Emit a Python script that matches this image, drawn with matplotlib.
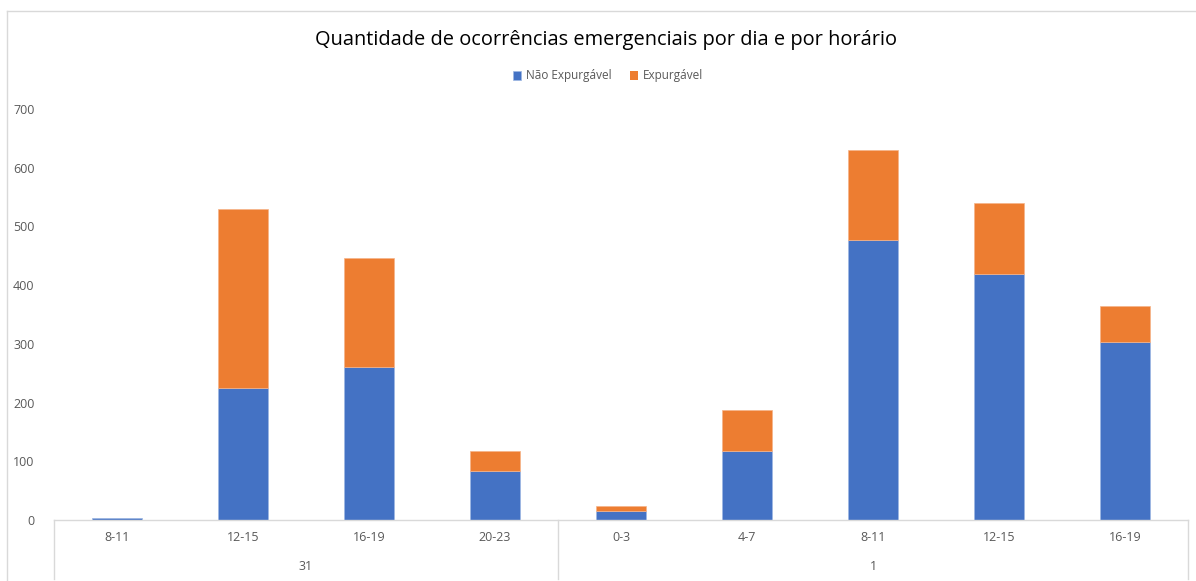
import numpy as np
import matplotlib.pyplot as plt
from matplotlib.lines import Line2D

# -----------------------------
# Data
# -----------------------------
horarios = ["8-11", "12-15", "16-19", "20-23", "0-3", "4-7", "8-11", "12-15", "16-19"]
dias = ["31", "1"]
dia_tamanho = [4, 5]

nao_expurgavel = [3, 224, 261, 83, 15, 118, 477, 419, 304]
expurgavel = [0, 305, 185, 35, 9, 70, 153, 121, 61]

azul = "#4472C4"
laranja = "#ED7D31"
cinza_texto = "#595959"
cinza_linha = "#D9D9D9"

plt.rcParams["font.family"] = ["Open Sans", "DejaVu Sans"]

# -----------------------------
# Figure
# -----------------------------
fig = plt.figure(figsize=(11.96, 5.81), dpi=100)
ax = fig.add_axes([54 / 1196, 1 - 520 / 581, 1134 / 1196, 411 / 581])

x = np.arange(len(horarios))

ax.bar(x, nao_expurgavel, width=0.4, color=azul,
       edgecolor="#9DB7E3", linewidth=0.5, label="Não Expurgável")
ax.bar(x, expurgavel, width=0.4, bottom=nao_expurgavel, color=laranja,
       edgecolor="#F5B48A",
       linewidth=[0 if v == 0 else 0.5 for v in expurgavel],
       label="Expurgável")

ax.set_xlim(-0.5, len(horarios) - 0.5)
ax.set_ylim(0, 700)
ax.set_yticks(range(0, 701, 100))
ax.tick_params(axis="y", length=0, labelsize=9, labelcolor=cinza_texto, pad=14)
ax.set_xticks([])

for side in ["top", "right", "left"]:
    ax.spines[side].set_visible(False)
ax.spines["bottom"].set_color(cinza_linha)
ax.spines["bottom"].set_linewidth(1)

# -----------------------------
# Multi-level category axis
# -----------------------------
trans = ax.get_xaxis_transform()
for i, h in enumerate(horarios):
    ax.text(i, -0.042, h, transform=trans, ha="center", va="center",
            fontsize=9, color=cinza_texto)

limites = [0]
for n in dia_tamanho:
    limites.append(limites[-1] + n)

for b in limites:
    ax.add_line(Line2D([b - 0.5, b - 0.5], [0, -0.143], transform=trans,
                       color=cinza_linha, linewidth=1, clip_on=False))

for d, a, b in zip(dias, limites[:-1], limites[1:]):
    ax.text((a + b - 1) / 2, -0.113, d, transform=trans, ha="center",
            va="center", fontsize=9, color=cinza_texto)

# -----------------------------
# Title & Legend
# -----------------------------
fig.text(606 / 1196, 1 - 40 / 581,
         "Quantidade de ocorrências emergenciais por dia e por horário",
         ha="center", va="center", fontsize=14.4, color="#000000")

fig.legend(loc="center", bbox_to_anchor=(608 / 1196, 1 - 76 / 581),
           ncol=2, frameon=False, fontsize=8.5, labelcolor=cinza_texto,
           handlelength=0.7, handleheight=0.7, handletextpad=0.4,
           columnspacing=1.6)

# chart border
fig.add_artist(Line2D([7 / 1196, 7 / 1196], [0, 1 - 11 / 581],
                      transform=fig.transFigure, color=cinza_linha, linewidth=1))
fig.add_artist(Line2D([7 / 1196, 1], [1 - 11 / 581, 1 - 11 / 581],
                      transform=fig.transFigure, color=cinza_linha, linewidth=1))

plt.savefig("out.png", dpi=100)
